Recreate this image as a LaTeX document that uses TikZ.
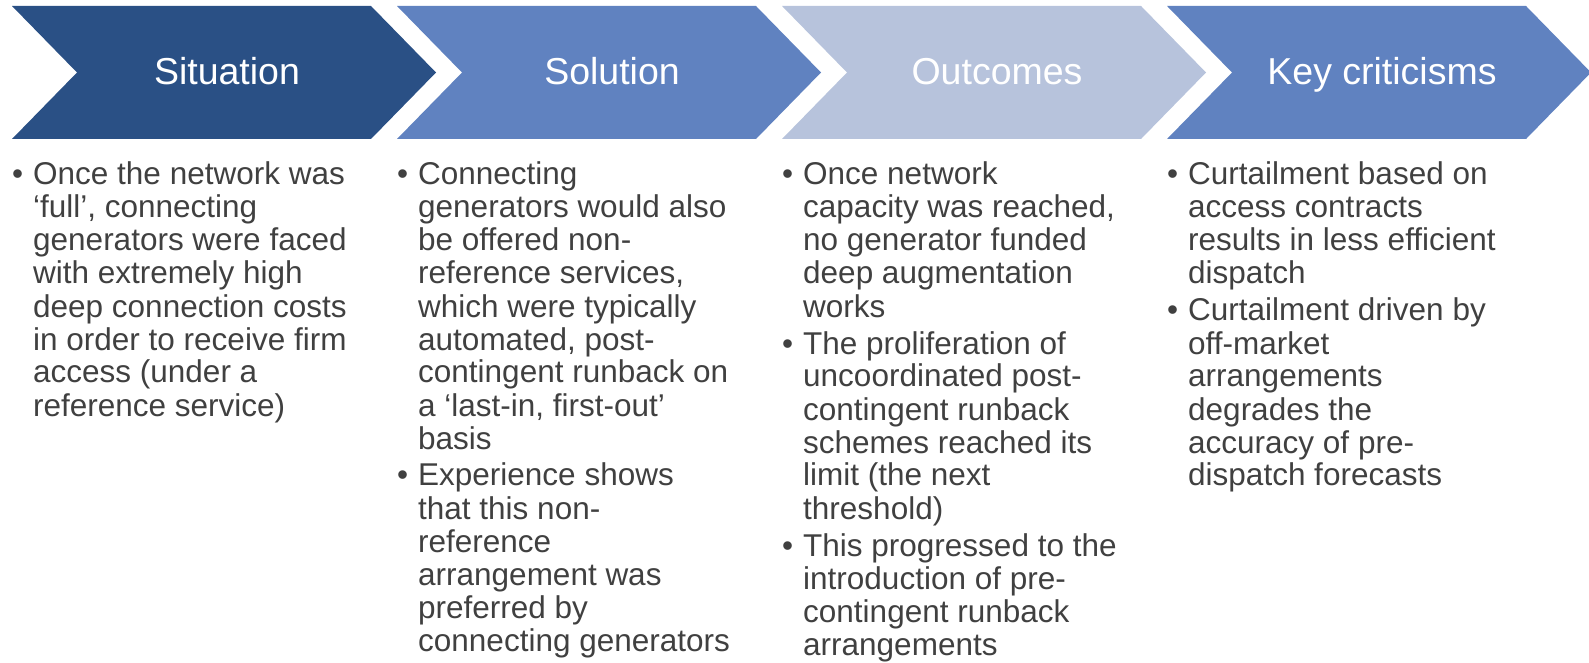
\documentclass[tikz,border=0pt]{standalone}
\usepackage{fontspec}
\setmainfont{Liberation Sans}
\definecolor{cdark}{HTML}{2A5085}
\definecolor{cmid}{HTML}{6082C0}
\definecolor{clight}{HTML}{B7C3DC}
\definecolor{ctext}{HTML}{404040}
\newcommand{\bitem}[1]{\par\noindent\llap{\makebox[21pt][l]{\textbullet}}#1}
\newcommand{\colbox}[1]{\parbox[t]{372pt}{\raggedright\leftskip=21pt\parskip=4pt #1}}
\tikzset{
  chev/.style={line width=0pt},
  head/.style={anchor=base, text=white, inner sep=0pt, font=\fontsize{37.5}{40}\selectfont},
  body/.style={anchor=base west, text=ctext, inner sep=0pt, font=\fontsize{31.5}{33}\selectfont},
}
\begin{document}
\begin{tikzpicture}[x=1pt,y=-1pt]
\useasboundingbox (0,0) rectangle (1589,663);
% chevrons
\foreach \x/\c in {12/cdark, 397/cmid, 782/clight, 1167/cmid}{
  \fill[\c] (\x,6) -- (\x+359,6) -- (\x+424,72.5) -- (\x+359,139) -- (\x,139) -- (\x+65,72.5) -- cycle;
}
% headers
\node[head] (h1) at (227,85) {Situation};
\node[head] (h2) at (612,85) {Solution};
\node[head] (h3) at (997,85) {Outcomes};
\node[head] (h4) at (1382,85) {Key criticisms};
% bodies
\node[body] (b1) at (12,185) {\colbox{%
\bitem{Once the network was\\‘full’, connecting\\generators were faced\\with extremely high\\deep connection costs\\in order to receive firm\\access (under a\\reference service)}}};
\node[body] (b2) at (397,185) {\colbox{%
\bitem{Connecting\\generators would also\\be offered non-\\reference services,\\which were typically\\automated, post-\\contingent runback on\\a ‘last-in, first-out’\\basis}%
\bitem{Experience shows\\that this non-\\reference\\arrangement was\\preferred by\\connecting generators}}};
\node[body] (b3) at (782,185) {\colbox{%
\bitem{Once network\\capacity was reached,\\no generator funded\\deep augmentation\\works}%
\bitem{The proliferation of\\uncoordinated post-\\contingent runback\\schemes reached its\\limit (the next\\threshold)}%
\bitem{This progressed to the\\introduction of pre-\\contingent runback\\arrangements}}};
\node[body] (b4) at (1167,185) {\colbox{%
\bitem{Curtailment based on\\access contracts\\results in less efficient\\dispatch}%
\bitem{Curtailment driven by\\off-market\\arrangements\\degrades the\\accuracy of pre-\\dispatch forecasts}}};
\end{tikzpicture}
\end{document}
